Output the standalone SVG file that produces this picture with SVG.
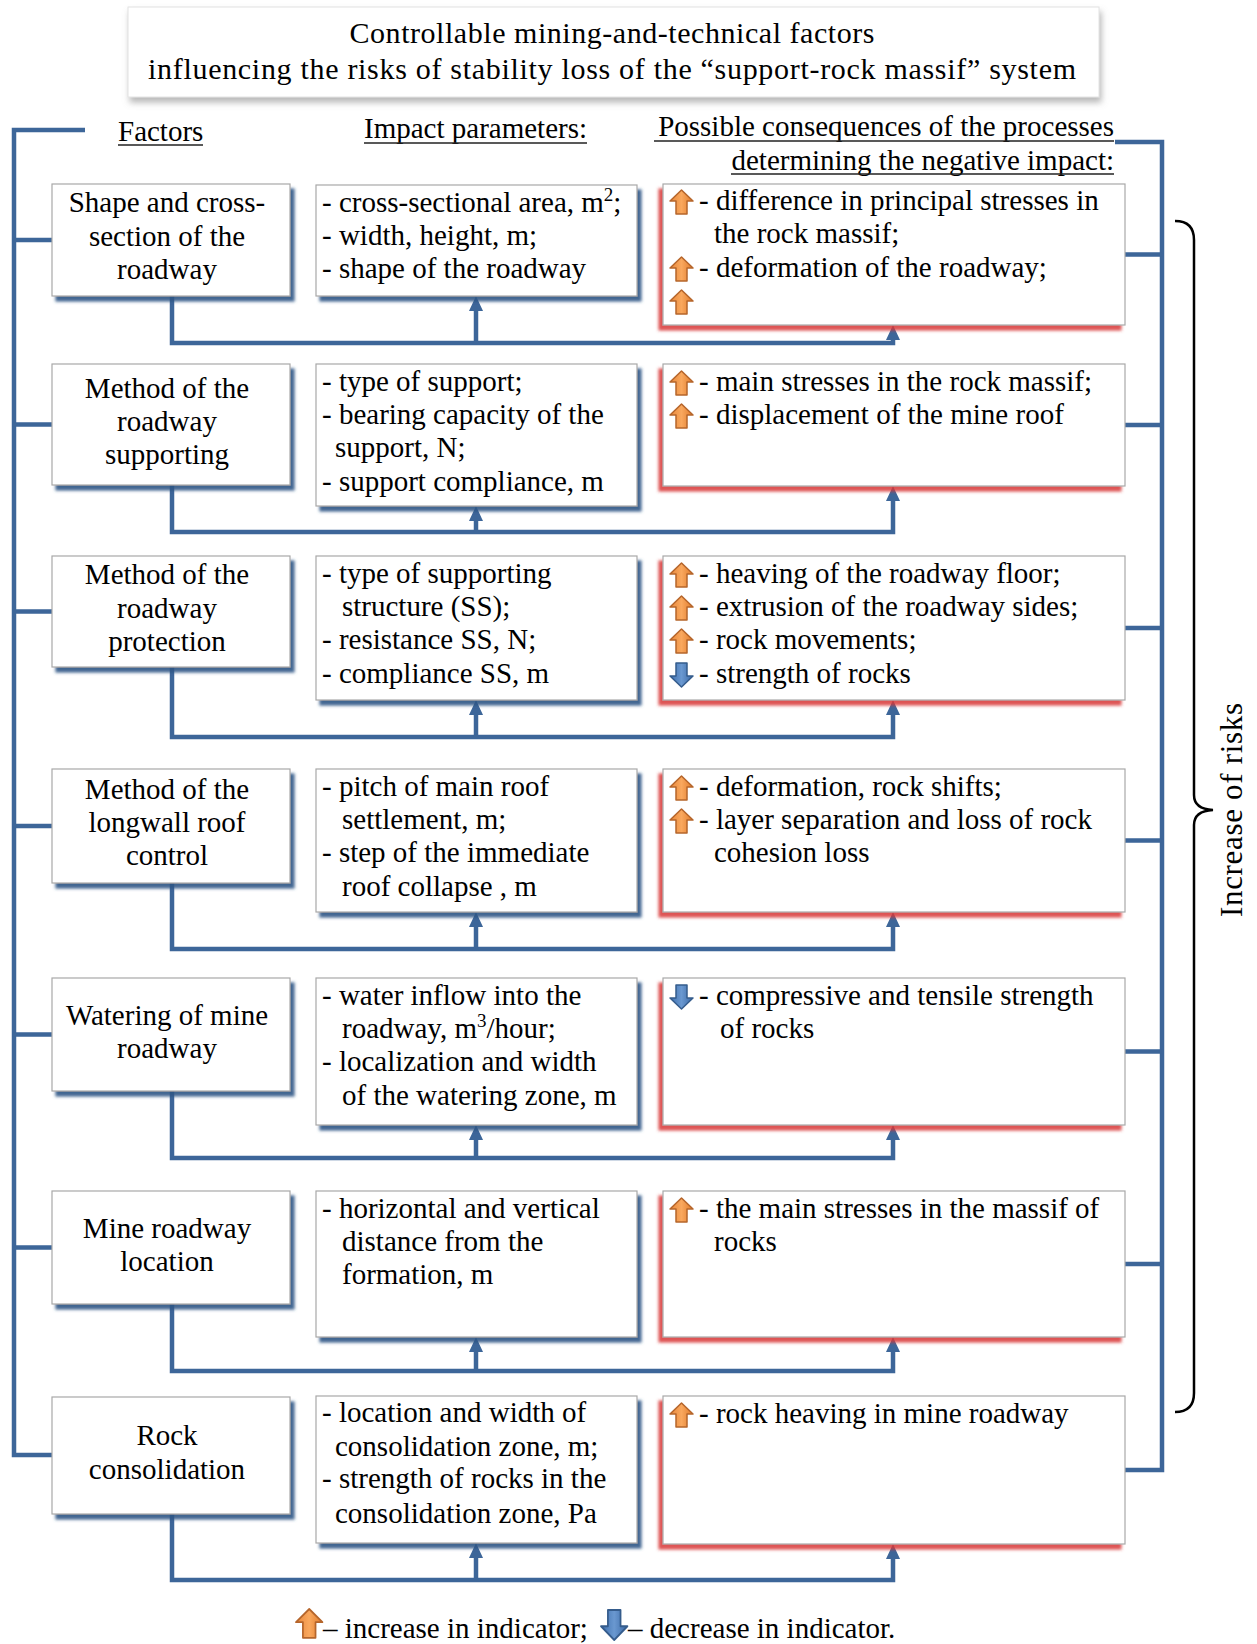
<svg xmlns="http://www.w3.org/2000/svg" width="1257" height="1644" viewBox="0 0 1257 1644">
<style>
text{font-family:"Liberation Serif","Times New Roman",serif;fill:#000}
.t{font-size:30px}
.h{font-size:29px}
.b{font-size:29px}
.f{font-size:29px;text-anchor:middle}
.box{fill:#fff;stroke:#a8a8a8;stroke-width:1.2}
.ln{fill:none;stroke:#3d6699;stroke-width:4.5;stroke-linejoin:miter}
.ul{stroke:#222;stroke-width:1.6}
</style>
<defs>
<filter id="sb" x="-10%" y="-10%" width="125%" height="130%"><feDropShadow dx="4" dy="5" stdDeviation="1.8" flood-color="#2f5485" flood-opacity="0.9"/></filter>
<filter id="sr" x="-10%" y="-10%" width="125%" height="130%"><feDropShadow dx="-4" dy="5" stdDeviation="1.8" flood-color="#d83535" flood-opacity="0.85"/></filter>
<filter id="sg" x="-10%" y="-10%" width="125%" height="140%"><feDropShadow dx="2" dy="5" stdDeviation="3" flood-color="#888" flood-opacity="0.6"/></filter>
<marker id="ah" markerUnits="userSpaceOnUse" markerWidth="16" markerHeight="16" refX="5" refY="7" orient="auto"><path d="M0,0 L15,7 L0,14 z" fill="#3d6699"/></marker>
<linearGradient id="og" x1="0" y1="0" x2="1" y2="0"><stop offset="0" stop-color="#e8873a"/><stop offset="0.5" stop-color="#f9a85e"/><stop offset="1" stop-color="#e07a2a"/></linearGradient>
<linearGradient id="bg" x1="0" y1="0" x2="1" y2="0"><stop offset="0" stop-color="#3e6fae"/><stop offset="0.5" stop-color="#6a98d0"/><stop offset="1" stop-color="#3a68a5"/></linearGradient>
<g id="up"><polygon points="11.5,0 23,11 17,11 17,24 6,24 6,11 0,11" fill="url(#og)" stroke="#b5652b" stroke-width="1.5" stroke-linejoin="round"/></g>
<g id="dn"><polygon points="6,0 17,0 17,13 23,13 11.5,24 0,13 6,13" fill="url(#bg)" stroke="#355c8c" stroke-width="1.5" stroke-linejoin="round"/></g>
</defs>

<g id="title">
<rect x="128" y="7" width="971" height="90" fill="#fff" stroke="#e2e2e2" stroke-width="1" filter="url(#sg)"/>
<text class="t" x="612" y="43" text-anchor="middle" textLength="525" lengthAdjust="spacing">Controllable mining-and-technical factors</text>
<text class="t" x="612" y="79" text-anchor="middle" textLength="928" lengthAdjust="spacing">influencing the risks of stability loss  of the “support-rock massif” system</text>
</g>

<g id="headers">
<text class="h" x="118" y="141">Factors</text>
<line class="ul" x1="118" y1="145" x2="203" y2="145"/>
<text class="h" x="364" y="138">Impact parameters:</text>
<line class="ul" x1="364" y1="143" x2="587" y2="143"/>
<text class="h" x="1114" y="136" text-anchor="end">Possible consequences of the processes</text>
<line class="ul" x1="654" y1="141" x2="1114" y2="141"/>
<text class="h" x="1114" y="170" text-anchor="end">determining the negative impact:</text>
<line class="ul" x1="731" y1="174" x2="1114" y2="174"/>
</g>

<g id="connectors">
<path class="ln" d="M85,130 H14 V1455 H52"/>
<path class="ln" d="M14,240 H52 M14,424.5 H52 M14,611.5 H52 M14,826 H52 M14,1034.5 H52 M14,1247.5 H52"/>
<path class="ln" d="M1115,142 H1162 V1470 H1125"/>
<path class="ln" d="M1162,254.5 H1125 M1162,425 H1125 M1162,628 H1125 M1162,840.5 H1125 M1162,1051.5 H1125 M1162,1264 H1125"/>
<path class="ln" d="M172,296 V343 H893 V335" marker-end="url(#ah)"/>
<path class="ln" d="M476,343 V306" marker-end="url(#ah)"/>
<path class="ln" d="M172,485 V532 H893 V496" marker-end="url(#ah)"/>
<path class="ln" d="M476,532 V516" marker-end="url(#ah)"/>
<path class="ln" d="M172,667 V737 H893 V710" marker-end="url(#ah)"/>
<path class="ln" d="M476,737 V710" marker-end="url(#ah)"/>
<path class="ln" d="M172,883 V949 H893 V922" marker-end="url(#ah)"/>
<path class="ln" d="M476,949 V922" marker-end="url(#ah)"/>
<path class="ln" d="M172,1091 V1158 H893 V1135" marker-end="url(#ah)"/>
<path class="ln" d="M476,1158 V1135" marker-end="url(#ah)"/>
<path class="ln" d="M172,1304 V1371 H893 V1347" marker-end="url(#ah)"/>
<path class="ln" d="M476,1371 V1347" marker-end="url(#ah)"/>
<path class="ln" d="M172,1514 V1580 H893 V1554" marker-end="url(#ah)"/>
<path class="ln" d="M476,1580 V1553" marker-end="url(#ah)"/>
</g>

<g id="brace">
<path d="M1175,221 Q1194,221 1194,240 V795 Q1194,809 1213,810 Q1194,811 1194,825 V1393 Q1194,1412 1175,1412" fill="none" stroke="#000" stroke-width="2.5"/>
<text transform="translate(1242,810) rotate(-90)" x="0" y="0" text-anchor="middle" style="font-size:31px" textLength="214" lengthAdjust="spacing">Increase of risks</text>
</g>

<g id="row1">
<g id="f1"><rect class="box" x="52" y="184" width="238" height="112" filter="url(#sb)"/>
<text class="f"><tspan x="167" y="212">Shape and cross-</tspan><tspan x="167" y="246">section of the</tspan><tspan x="167" y="279">roadway</tspan></text></g>
<g id="i1"><rect class="box" x="316" y="185" width="321" height="111" filter="url(#sb)"/>
<text class="b"><tspan x="322" y="212">- cross-sectional area, m</tspan><tspan dy="-11" style="font-size:19px">2</tspan><tspan dy="11">;</tspan><tspan x="322" y="245">- width, height, m;</tspan><tspan x="322" y="278">- shape of the roadway</tspan></text></g>
<g id="c1"><rect class="box" x="663" y="184" width="462" height="141" filter="url(#sr)"/>
<use href="#up" x="670" y="190"/><use href="#up" x="670" y="257"/><use href="#up" x="670" y="290"/>
<text class="b"><tspan x="699" y="210">- difference in principal stresses in</tspan><tspan x="714" y="243">the rock massif;</tspan><tspan x="699" y="277">- deformation of the roadway;</tspan></text></g>
</g>

<g id="row2">
<g id="f2"><rect class="box" x="52" y="364" width="238" height="121" filter="url(#sb)"/>
<text class="f"><tspan x="167" y="398">Method of the</tspan><tspan x="167" y="431">roadway</tspan><tspan x="167" y="464">supporting</tspan></text></g>
<g id="i2"><rect class="box" x="316" y="364" width="321" height="142" filter="url(#sb)"/>
<text class="b"><tspan x="322" y="391">- type of support;</tspan><tspan x="322" y="424">- bearing capacity  of the</tspan><tspan x="335" y="457">support, N;</tspan><tspan x="322" y="491">- support compliance,  m</tspan></text></g>
<g id="c2"><rect class="box" x="663" y="364" width="462" height="122" filter="url(#sr)"/>
<use href="#up" x="670" y="371"/><use href="#up" x="670" y="404"/>
<text class="b"><tspan x="699" y="391">- main stresses  in the rock massif;</tspan><tspan x="699" y="424">- displacement  of the mine roof</tspan></text></g>
</g>

<g id="row3">
<g id="f3"><rect class="box" x="52" y="556" width="238" height="111" filter="url(#sb)"/>
<text class="f"><tspan x="167" y="584">Method of the</tspan><tspan x="167" y="618">roadway</tspan><tspan x="167" y="651">protection</tspan></text></g>
<g id="i3"><rect class="box" x="316" y="556" width="321" height="144" filter="url(#sb)"/>
<text class="b"><tspan x="322" y="583">- type of supporting</tspan><tspan x="342" y="616">structure (SS);</tspan><tspan x="322" y="649">- resistance SS, N;</tspan><tspan x="322" y="683">- compliance SS, m</tspan></text></g>
<g id="c3"><rect class="box" x="663" y="556" width="462" height="144" filter="url(#sr)"/>
<use href="#up" x="670" y="563"/><use href="#up" x="670" y="596"/><use href="#up" x="670" y="629"/><use href="#dn" x="670" y="663"/>
<text class="b"><tspan x="699" y="583">- heaving of the roadway floor;</tspan><tspan x="699" y="616">- extrusion  of the roadway sides;</tspan><tspan x="699" y="649">- rock movements;</tspan><tspan x="699" y="683">- strength of rocks</tspan></text></g>
</g>

<g id="row4">
<g id="f4"><rect class="box" x="52" y="769" width="238" height="114" filter="url(#sb)"/>
<text class="f"><tspan x="167" y="799">Method of the</tspan><tspan x="167" y="832">longwall roof</tspan><tspan x="167" y="865">control</tspan></text></g>
<g id="i4"><rect class="box" x="316" y="769" width="321" height="143" filter="url(#sb)"/>
<text class="b"><tspan x="322" y="796">- pitch of main roof</tspan><tspan x="342" y="829">settlement,  m;</tspan><tspan x="322" y="862">- step of the immediate</tspan><tspan x="342" y="896">roof collapse , m</tspan></text></g>
<g id="c4"><rect class="box" x="663" y="769" width="462" height="143" filter="url(#sr)"/>
<use href="#up" x="670" y="776"/><use href="#up" x="670" y="809"/>
<text class="b"><tspan x="699" y="796">- deformation, rock shifts;</tspan><tspan x="699" y="829">- layer separation and loss of rock</tspan><tspan x="714" y="862">cohesion loss</tspan></text></g>
</g>

<g id="row5">
<g id="f5"><rect class="box" x="52" y="978" width="238" height="113" filter="url(#sb)"/>
<text class="f"><tspan x="167" y="1025">Watering  of mine</tspan><tspan x="167" y="1058">roadway</tspan></text></g>
<g id="i5"><rect class="box" x="316" y="978" width="321" height="147" filter="url(#sb)"/>
<text class="b"><tspan x="322" y="1005">- water inflow into the</tspan><tspan x="342" y="1038">roadway, m</tspan><tspan dy="-11" style="font-size:19px">3</tspan><tspan dy="11">/hour;</tspan><tspan x="322" y="1071">- localization  and width</tspan><tspan x="342" y="1105">of the watering zone, m</tspan></text></g>
<g id="c5"><rect class="box" x="663" y="978" width="462" height="147" filter="url(#sr)"/>
<use href="#dn" x="670" y="985"/>
<text class="b"><tspan x="699" y="1005">- compressive and tensile  strength</tspan><tspan x="720" y="1038">of rocks</tspan></text></g>
</g>

<g id="row6">
<g id="f6"><rect class="box" x="52" y="1191" width="238" height="113" filter="url(#sb)"/>
<text class="f"><tspan x="167" y="1238">Mine roadway</tspan><tspan x="167" y="1271">location</tspan></text></g>
<g id="i6"><rect class="box" x="316" y="1191" width="321" height="146" filter="url(#sb)"/>
<text class="b"><tspan x="322" y="1218">- horizontal and vertical</tspan><tspan x="342" y="1251">distance from the</tspan><tspan x="342" y="1284">formation, m</tspan></text></g>
<g id="c6"><rect class="box" x="663" y="1191" width="462" height="146" filter="url(#sr)"/>
<use href="#up" x="670" y="1198"/>
<text class="b"><tspan x="699" y="1218">- the main stresses in the massif of</tspan><tspan x="714" y="1251">rocks</tspan></text></g>
</g>

<g id="row7">
<g id="f7"><rect class="box" x="52" y="1397" width="238" height="117" filter="url(#sb)"/>
<text class="f"><tspan x="167" y="1445">Rock</tspan><tspan x="167" y="1479">consolidation</tspan></text></g>
<g id="i7"><rect class="box" x="316" y="1396" width="321" height="147" filter="url(#sb)"/>
<text class="b"><tspan x="322" y="1422">- location and width of</tspan><tspan x="335" y="1456">consolidation zone, m;</tspan><tspan x="322" y="1488">- strength of rocks in the</tspan><tspan x="335" y="1523">consolidation zone, Pa</tspan></text></g>
<g id="c7"><rect class="box" x="663" y="1396" width="462" height="148" filter="url(#sr)"/>
<use href="#up" x="670" y="1403"/>
<text class="b"><tspan x="699" y="1423">- rock heaving in mine roadway</tspan></text></g>
</g>

<g id="legend">
<use href="#up" transform="translate(296,1609) scale(1.15,1.2)"/>
<text class="b" x="323" y="1638">– increase in indicator;</text>
<use href="#dn" transform="translate(601,1610) scale(1.15,1.25)"/>
<text class="b" x="628" y="1638">– decrease in indicator.</text>
</g>
</svg>
